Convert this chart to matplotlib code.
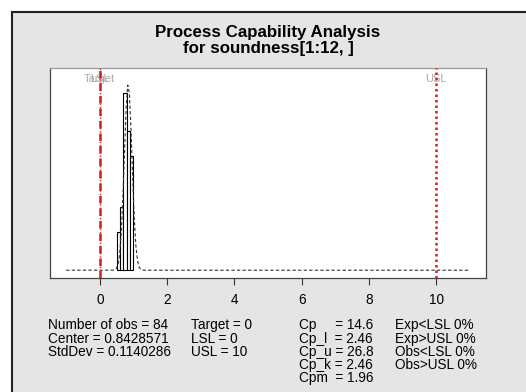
import numpy as np
import matplotlib
matplotlib.use("Agg")
import matplotlib.pyplot as plt
from matplotlib.patches import Rectangle

plt.rcParams['font.family'] = ['Liberation Sans', 'DejaVu Sans']

# histogram of soundness[1:12, ] (bins of width 0.1)
bin_edges = [0.5, 0.6, 0.7, 0.8, 0.9, 1.0]
bin_counts = [6, 10, 28, 22, 18]

n_obs = 84
center = 0.8428571
std_dev = 0.1140286
target = 0
lsl = 0
usl = 10

cap_labels = ["Cp     = 14.6", "Cp_l  = 2.46", "Cp_u = 26.8", "Cp_k = 2.46", "Cpm  = 1.96"]
exp_obs = ["Exp<LSL 0%", "Exp>USL 0%", "Obs<LSL 0%", "Obs>USL 0%"]
xticks = [0, 2, 4, 6, 8, 10]

W, H = 526, 392
fig = plt.figure(figsize=(W / 100, H / 100), dpi=100, facecolor="white")

# grey panel with dark frame (runs off the right and bottom edges)
fig.patches.append(Rectangle((12 / W, -0.05), 1.1, 1.05 - 12 / H, transform=fig.transFigure,
                             facecolor="#e5e5e5", edgecolor="#222222", linewidth=1.5,
                             zorder=-10))

ax = fig.add_axes([50 / W, (H - 278) / H, 436 / W, 210 / H])
ax.set_facecolor("white")
for s in ax.spines.values():
    s.set_color("#444444")
    s.set_linewidth(0.9)
ax.spines["top"].set_color("#999999")

# density histogram
widths = np.diff(bin_edges)
dens = np.array(bin_counts) / (n_obs * widths)
ax.bar(bin_edges[:-1], dens, width=widths, align="edge",
       facecolor="white", edgecolor="black", linewidth=0.8, zorder=2)

# fitted normal curve over the full range
xs = np.linspace(-1, 11, 250)
ys = np.exp(-0.5 * ((xs - center) / std_dev) ** 2) / (std_dev * np.sqrt(2 * np.pi))
ax.plot(xs, ys, color="#333333", lw=0.8, dashes=(3, 2), zorder=3)

# spec limits and target
ax.axvline(lsl, color="#cc2222", lw=1.0, dashes=(1, 1.5), zorder=4)
ax.axvline(target, color="#d02020", lw=1.8, dashes=(3, 2), zorder=4)
ax.axvline(usl, color="#d02020", lw=1.8, dashes=(1, 1.2), zorder=4)

ymax = ys.max() * 1.05
ax.set_xlim(-1.48, 11.48)
ax.set_ylim(-0.04 * ymax, 1.04 * ymax)

top = ax.get_ylim()[1]
for xv, lab in [(target, "Target"), (lsl, "LSL"), (usl, "USL")]:
    ax.text(xv, top - 0.2, lab, ha="center", va="center", fontsize=8, color="#aaaaaa", zorder=1)

ax.set_yticks([])
ax.set_xticks(xticks)
ax.tick_params(axis="x", length=5, width=0.8, color="#333333", pad=6, labelsize=9.8)

fig.text(268 / W, 1 - 33 / H, "Process Capability Analysis", ha="center", va="center",
         fontsize=12.2, fontweight="bold")
fig.text(268 / W, 1 - 49 / H, "for soundness[1:12, ]", ha="center", va="center",
         fontsize=12.2, fontweight="bold")

col1 = [f"Number of obs = {n_obs}", f"Center = {center}", f"StdDev = {std_dev}"]
col2 = [f"Target = {target}", f"LSL = {lsl}", f"USL = {usl}"]
line_y = [325, 339, 352, 365, 378]
fs = 9.8
for i, t in enumerate(col1):
    fig.text(48 / W, 1 - line_y[i] / H, t, ha="left", va="center", fontsize=fs)
for i, t in enumerate(col2):
    fig.text(191 / W, 1 - line_y[i] / H, t, ha="left", va="center", fontsize=fs)
for i, t in enumerate(cap_labels):
    fig.text(299 / W, 1 - line_y[i] / H, t, ha="left", va="center", fontsize=fs)
for i, t in enumerate(exp_obs):
    fig.text(395 / W, 1 - line_y[i] / H, t, ha="left", va="center", fontsize=fs)

fig.savefig("out.png", dpi=100, facecolor="white")
